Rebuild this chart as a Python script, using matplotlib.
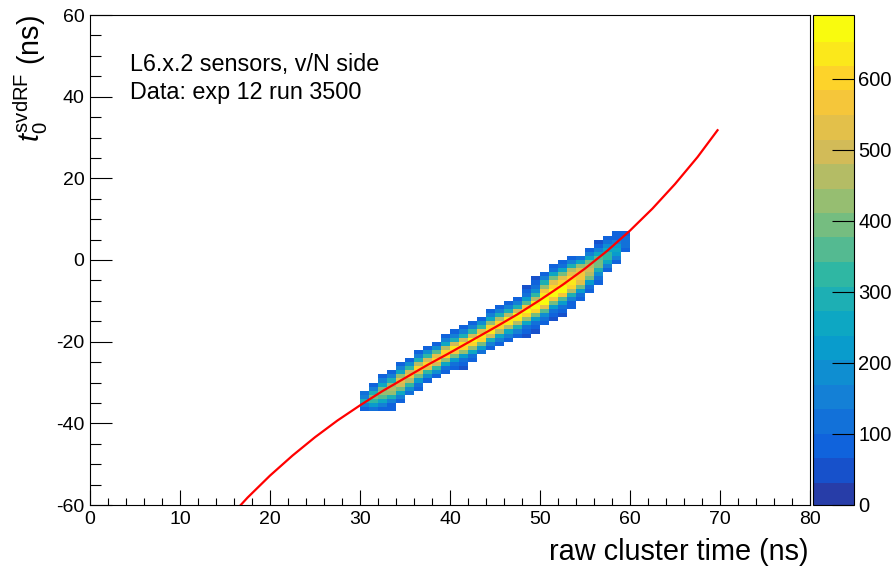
import numpy as np
import matplotlib
matplotlib.use("Agg")
import matplotlib.pyplot as plt
from matplotlib.colors import LinearSegmentedColormap, ListedColormap, BoundaryNorm
from matplotlib.ticker import MultipleLocator

# ---------------- data ----------------
x_bin_edges = np.arange(0, 81, 1)      # raw cluster time bins (ns)
y_bin_edges = np.arange(-60, 61, 1)    # t0 bins (ns)

col_x = [30, 31, 32, 33, 34, 35, 36, 37, 38, 39, 40, 41, 42, 43, 44,
         45, 46, 47, 48, 49, 50, 51, 52, 53, 54, 55, 56, 57, 58, 59]
col_y0 = [-37, -37, -37, -37, -35, -33, -32, -30, -29, -28, -27, -27, -25, -23, -22,
          -21, -20, -19, -19, -18, -16, -15, -14, -12, -10, -8, -6, -3, -1, 2]
col_counts = [
    [90, 160, 280, 150, 110],
    [110, 210, 330, 380, 300, 170, 90],
    [90, 150, 250, 370, 430, 400, 270, 150, 80],
    [80, 100, 170, 290, 420, 480, 440, 300, 170, 90],
    [90, 140, 250, 390, 500, 530, 420, 270, 150, 80],
    [110, 200, 340, 480, 560, 500, 340, 190, 90],
    [80, 130, 240, 400, 550, 590, 450, 280, 150, 80],
    [100, 190, 340, 520, 600, 510, 330, 180, 90],
    [100, 180, 330, 510, 610, 540, 360, 200, 90],
    [80, 130, 250, 430, 600, 620, 450, 270, 140, 80],
    [70, 120, 230, 400, 580, 640, 500, 310, 160, 80],
    [60, 80, 130, 240, 420, 610, 650, 500, 310, 160, 80],
    [80, 130, 250, 430, 620, 660, 510, 320, 170, 80],
    [110, 220, 400, 590, 650, 520, 330, 180, 90],
    [80, 160, 300, 490, 630, 600, 430, 260, 140, 80],
    [80, 140, 270, 460, 620, 620, 460, 280, 150, 80],
    [80, 140, 270, 460, 630, 640, 480, 300, 160, 80],
    [80, 140, 280, 470, 640, 660, 500, 310, 160, 80],
    [60, 80, 130, 250, 430, 620, 680, 560, 370, 220, 120, 80, 60],
    [60, 80, 130, 240, 410, 600, 690, 640, 480, 330, 200, 120, 80, 60],
    [70, 110, 200, 350, 530, 660, 690, 640, 560, 430, 280, 150, 80],
    [60, 80, 120, 220, 380, 560, 690, 680, 620, 540, 400, 250, 130, 70],
    [60, 80, 110, 210, 370, 560, 670, 660, 600, 530, 400, 250, 130, 70],
    [70, 100, 170, 300, 470, 600, 630, 590, 540, 450, 310, 170, 90],
    [80, 130, 240, 400, 520, 570, 560, 520, 420, 260, 120],
    [80, 130, 240, 380, 470, 500, 460, 380, 260, 150, 80],
    [70, 110, 200, 310, 380, 400, 350, 260, 170, 100, 60],
    [90, 170, 260, 320, 330, 270, 190, 110, 70],
    [90, 160, 220, 250, 220, 160, 100, 70],
    [80, 110, 130, 110, 80],
]

# fit curve, points
curve_x = [16.5, 17.5, 20.0, 22.5, 25.0, 27.5, 30.0, 32.5, 35.0, 37.5, 40.0, 42.5,
           45.0, 47.5, 50.0, 52.5, 55.0, 57.5, 60.0, 62.5, 65.0, 67.5, 69.8]
curve_y = [-60.6, -58.2, -52.8, -47.9, -43.4, -39.3, -35.6, -32.1, -28.9, -25.7, -22.7, -19.6,
           -16.5, -13.3, -9.8, -6.1, -2.1, 2.3, 7.2, 12.6, 18.6, 25.2, 32.0]

z_max = 690
n_levels = 20
z_ticks = [0, 100, 200, 300, 400, 500, 600]
x_ticks = [0, 10, 20, 30, 40, 50, 60, 70, 80]
y_ticks = [-60, -40, -20, 0, 20, 40, 60]

label_lines = ["L6.x.2 sensors, v/N side", "Data: exp 12 run 3500"]
x_title = "raw cluster time (ns)"
y_title = r"$t_{0}^{\mathrm{svdRF}}$ (ns)"

# ---------------- style ----------------
plt.rcParams["font.family"] = ["Liberation Sans", "DejaVu Sans"]
plt.rcParams["axes.unicode_minus"] = False
plt.rcParams["mathtext.fontset"] = "custom"
plt.rcParams["mathtext.rm"] = "Liberation Sans"
plt.rcParams["mathtext.it"] = "Liberation Sans:italic"

bird_stops = [0.0, 0.125, 0.25, 0.375, 0.5, 0.625, 0.75, 0.875, 1.0]
bird_r = [0.2082, 0.0592, 0.0780, 0.0232, 0.1802, 0.5301, 0.8186, 0.9956, 0.9764]
bird_g = [0.1664, 0.3599, 0.5041, 0.6419, 0.7178, 0.7492, 0.7328, 0.7862, 0.9832]
bird_b = [0.5293, 0.8684, 0.8385, 0.7914, 0.6425, 0.4662, 0.3499, 0.1968, 0.0539]
bird = LinearSegmentedColormap.from_list(
    "bird", list(zip(bird_stops, zip(bird_r, bird_g, bird_b))))
level_colors = [bird(int((i + 0.99) * 255 / n_levels) / 254) for i in range(n_levels)]
cmap = ListedColormap(level_colors)
cmap.set_over(level_colors[-1])
cmap.set_bad((1, 1, 1, 0))
norm = BoundaryNorm(np.linspace(0, z_max, n_levels + 1), n_levels)

# ---------------- histogram ----------------
H = np.zeros((len(y_bin_edges) - 1, len(x_bin_edges) - 1))
for cx, cy0, counts in zip(col_x, col_y0, col_counts):
    ix = int(np.searchsorted(x_bin_edges, cx))
    iy0 = int(np.searchsorted(y_bin_edges, cy0))
    for k, c in enumerate(counts):
        H[iy0 + k, ix] = c
Hm = np.ma.masked_equal(H, 0)

W, Hpx = 896, 567
fig = plt.figure(figsize=(W / 100, Hpx / 100), dpi=100)
ax = fig.add_axes([90 / W, 1 - 505 / Hpx, 720 / W, 490 / Hpx])
cax = fig.add_axes([813 / W, 1 - 505 / Hpx, 41 / W, 490 / Hpx])

mesh = ax.pcolormesh(x_bin_edges, y_bin_edges, Hm, cmap=cmap, norm=norm,
                     shading="flat", antialiased=False, linewidth=0)
ax.plot(curve_x, curve_y, color=(1, 0, 0), lw=1.6, solid_capstyle="butt", zorder=3)

ax.set_xlim(0, 80)
ax.set_ylim(-60, 60)
ax.set_xticks(x_ticks)
ax.set_yticks(y_ticks)
ax.xaxis.set_minor_locator(MultipleLocator(2))
ax.yaxis.set_minor_locator(MultipleLocator(5))
ax.tick_params(axis="both", which="both", direction="in", color="black", width=0.8,
               top=False, right=False, labelsize=14)
ax.tick_params(axis="x", which="major", length=10.6, pad=4)
ax.tick_params(axis="x", which="minor", length=5.3)
ax.tick_params(axis="y", which="major", length=15.6, pad=4)
ax.tick_params(axis="y", which="minor", length=7.8)
for s in ax.spines.values():
    s.set_linewidth(0.8)

for i, line in enumerate(label_lines):
    fig.text(130 / W, 1 - (71 + i * 27.5) / Hpx, line, fontsize=16.8,
             ha="left", va="baseline")

fig.text(808 / W, 1 - 560 / Hpx, x_title, fontsize=20.8, ha="right", va="baseline")
fig.text(31 / W, 1 - 15 / Hpx, y_title, fontsize=20.8, rotation=90,
         ha="center", va="top")

cb = fig.colorbar(mesh, cax=cax, ticks=z_ticks, extend="neither")
cb.outline.set_linewidth(0.8)
cb.solids.set_edgecolor("face")
cax.yaxis.set_ticks_position("right")
cax.tick_params(axis="y", which="major", direction="in", length=16, width=0.8,
                labelsize=14.5, pad=3)
cax.minorticks_off()
cax.set_ylim(0, z_max)

fig.savefig("out.png", dpi=100)
